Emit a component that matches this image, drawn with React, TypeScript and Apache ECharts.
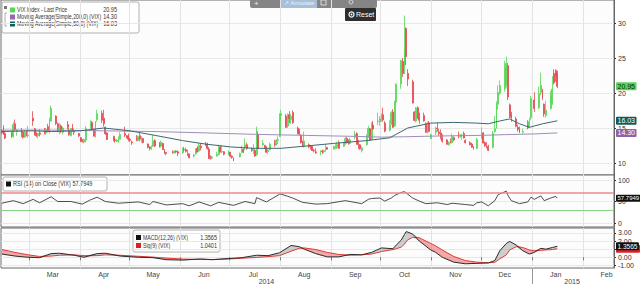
import React, { useEffect, useRef } from "react";
import * as echarts from "echarts";

const START_DAY = "2014-02-12";
const END_DAY = "2015-02-19";
const MONTHS = ["Jan", "Feb", "Mar", "Apr", "May", "Jun", "Jul", "Aug", "Sep", "Oct", "Nov", "Dec"];

// [date, open, close, low, high]
const ohlc: [string, number, number, number, number][] = [
  ["2014-02-12", 14.6, 14.3, 14.1, 14.9], ["2014-02-13", 15.0, 14.14, 14.0, 15.4], ["2014-02-14", 14.2, 13.57, 13.4, 14.5],
  ["2014-02-18", 14.3, 13.87, 13.6, 14.4], ["2014-02-19", 13.8, 15.5, 13.6, 15.8], ["2014-02-20", 15.6, 14.79, 14.6, 16.2],
  ["2014-02-21", 14.5, 14.68, 13.9, 14.8], ["2014-02-24", 14.6, 14.23, 13.7, 15.0], ["2014-02-25", 14.4, 13.67, 13.5, 14.6],
  ["2014-02-26", 13.7, 14.35, 13.6, 14.6], ["2014-02-27", 14.4, 14.04, 13.8, 14.7], ["2014-02-28", 13.9, 14.0, 13.6, 15.3],
  ["2014-03-03", 16.4, 16.0, 15.3, 17.4], ["2014-03-04", 14.9, 14.1, 13.9, 15.0], ["2014-03-05", 14.2, 13.89, 13.7, 14.4],
  ["2014-03-06", 13.9, 14.21, 13.5, 14.3], ["2014-03-07", 14.3, 14.11, 13.8, 14.8], ["2014-03-10", 14.5, 14.2, 14.1, 15.0],
  ["2014-03-11", 14.3, 14.8, 14.0, 15.0], ["2014-03-12", 15.2, 14.47, 14.4, 15.6], ["2014-03-13", 14.5, 16.22, 14.2, 16.5],
  ["2014-03-14", 16.0, 17.82, 15.9, 18.2], ["2014-03-17", 16.7, 15.64, 15.4, 16.8], ["2014-03-18", 15.6, 14.52, 14.4, 15.8],
  ["2014-03-19", 14.5, 15.12, 14.1, 15.7], ["2014-03-20", 15.3, 14.52, 14.3, 15.5], ["2014-03-21", 14.4, 15.0, 14.1, 15.2],
  ["2014-03-24", 15.5, 15.09, 14.8, 16.0], ["2014-03-25", 14.7, 14.02, 13.9, 15.0], ["2014-03-26", 13.9, 14.93, 13.8, 15.0],
  ["2014-03-27", 15.1, 14.62, 14.5, 15.6], ["2014-03-28", 14.5, 14.41, 14.0, 14.9], ["2014-03-31", 14.2, 13.88, 13.7, 14.3],
  ["2014-04-01", 13.6, 13.1, 13.0, 13.7], ["2014-04-02", 13.2, 13.09, 12.9, 13.4], ["2014-04-03", 13.0, 13.37, 12.8, 13.5],
  ["2014-04-04", 13.3, 14.89, 12.9, 15.3], ["2014-04-07", 15.2, 15.57, 14.9, 16.1], ["2014-04-08", 15.8, 14.89, 14.7, 16.0],
  ["2014-04-09", 14.8, 13.82, 13.8, 14.9], ["2014-04-10", 13.9, 15.89, 13.6, 16.0], ["2014-04-11", 16.2, 17.03, 15.9, 17.6],
  ["2014-04-14", 17.1, 16.11, 15.7, 17.5], ["2014-04-15", 16.4, 15.61, 15.2, 17.6], ["2014-04-16", 15.1, 14.18, 14.0, 15.2],
  ["2014-04-17", 14.3, 13.36, 13.3, 14.4], ["2014-04-21", 13.8, 13.25, 13.1, 13.9], ["2014-04-22", 13.3, 13.19, 12.9, 13.5],
  ["2014-04-23", 13.1, 13.27, 13.0, 13.4], ["2014-04-24", 13.0, 13.32, 12.9, 13.8], ["2014-04-25", 13.4, 14.06, 13.3, 14.4],
  ["2014-04-28", 14.2, 13.97, 13.7, 15.2], ["2014-04-29", 13.8, 13.71, 13.5, 14.0], ["2014-04-30", 13.9, 13.41, 13.1, 14.2],
  ["2014-05-01", 13.4, 13.25, 13.0, 13.6], ["2014-05-02", 13.0, 12.91, 12.6, 13.2], ["2014-05-05", 13.6, 13.29, 13.1, 14.0],
  ["2014-05-06", 13.2, 13.8, 13.1, 13.9], ["2014-05-07", 13.9, 13.4, 13.1, 14.3], ["2014-05-08", 13.2, 13.43, 12.9, 13.8],
  ["2014-05-09", 13.5, 12.92, 12.8, 13.6], ["2014-05-12", 12.7, 12.23, 12.1, 12.8], ["2014-05-13", 12.3, 12.13, 11.8, 12.4],
  ["2014-05-14", 12.0, 12.17, 11.9, 12.5], ["2014-05-15", 12.4, 13.17, 12.3, 14.0], ["2014-05-16", 13.2, 12.44, 12.3, 13.4],
  ["2014-05-19", 12.8, 12.42, 12.2, 13.0], ["2014-05-20", 12.4, 12.96, 12.2, 13.2], ["2014-05-21", 12.8, 11.91, 11.9, 12.9],
  ["2014-05-22", 11.8, 11.36, 11.3, 12.0], ["2014-05-23", 11.5, 11.36, 11.1, 11.6], ["2014-05-27", 11.6, 11.51, 11.3, 11.8],
  ["2014-05-28", 11.5, 11.68, 11.3, 11.8], ["2014-05-29", 11.7, 11.57, 11.4, 11.8], ["2014-05-30", 11.6, 11.4, 11.0, 11.8],
  ["2014-06-02", 11.5, 11.58, 11.3, 12.2], ["2014-06-03", 11.9, 11.87, 11.6, 12.3], ["2014-06-04", 11.9, 11.68, 11.5, 12.2],
  ["2014-06-05", 11.7, 11.68, 11.0, 11.9], ["2014-06-06", 11.3, 10.73, 10.7, 11.4], ["2014-06-09", 11.0, 11.15, 10.8, 11.3],
  ["2014-06-10", 11.3, 11.99, 11.2, 12.1], ["2014-06-11", 12.1, 11.6, 11.5, 12.4], ["2014-06-12", 11.7, 12.56, 11.6, 12.9],
  ["2014-06-13", 12.4, 12.18, 11.8, 12.8], ["2014-06-16", 12.7, 12.65, 12.4, 13.0], ["2014-06-17", 12.7, 12.06, 11.9, 12.9],
  ["2014-06-18", 12.0, 10.61, 10.6, 12.3], ["2014-06-19", 10.7, 10.62, 10.5, 11.1], ["2014-06-20", 10.7, 10.85, 10.5, 11.0],
  ["2014-06-23", 11.0, 11.26, 10.9, 11.6], ["2014-06-24", 11.2, 12.13, 11.1, 12.6], ["2014-06-25", 12.3, 11.59, 11.5, 12.5],
  ["2014-06-26", 11.6, 11.63, 11.4, 12.5], ["2014-06-27", 11.6, 11.26, 11.1, 11.7], ["2014-06-30", 11.3, 11.57, 11.1, 11.8],
  ["2014-07-01", 11.5, 10.99, 10.8, 11.6], ["2014-07-02", 11.0, 10.82, 10.6, 11.1], ["2014-07-03", 10.7, 10.32, 10.3, 10.8],
  ["2014-07-07", 10.9, 11.33, 10.8, 11.5], ["2014-07-08", 11.5, 11.98, 11.4, 12.5], ["2014-07-09", 11.9, 11.65, 11.4, 12.1],
  ["2014-07-10", 12.2, 12.59, 11.8, 13.5], ["2014-07-11", 12.6, 12.08, 11.9, 12.9], ["2014-07-14", 12.0, 11.82, 11.6, 12.2],
  ["2014-07-15", 11.8, 11.96, 11.3, 12.7], ["2014-07-16", 11.8, 11.0, 10.9, 12.0], ["2014-07-17", 11.2, 14.54, 11.0, 15.2],
  ["2014-07-18", 14.1, 12.06, 12.0, 14.3], ["2014-07-21", 12.6, 12.81, 12.4, 13.3], ["2014-07-22", 12.5, 12.24, 12.0, 12.6],
  ["2014-07-23", 12.2, 11.52, 11.5, 12.4], ["2014-07-24", 11.6, 11.84, 11.3, 12.0], ["2014-07-25", 11.9, 12.69, 11.8, 12.9],
  ["2014-07-28", 12.8, 12.56, 12.3, 13.3], ["2014-07-29", 12.6, 13.28, 12.5, 13.4], ["2014-07-30", 13.2, 13.33, 12.7, 13.8],
  ["2014-07-31", 13.8, 16.95, 13.7, 17.1], ["2014-08-01", 16.8, 17.03, 15.9, 17.6], ["2014-08-04", 16.7, 15.12, 15.0, 17.0],
  ["2014-08-05", 15.3, 16.87, 15.0, 17.1], ["2014-08-06", 16.9, 16.37, 15.7, 17.4], ["2014-08-07", 16.2, 16.66, 15.6, 17.0],
  ["2014-08-08", 17.2, 15.77, 15.6, 17.5], ["2014-08-11", 15.0, 14.23, 14.1, 15.2], ["2014-08-12", 14.6, 14.13, 14.0, 14.9],
  ["2014-08-13", 14.0, 12.9, 12.8, 14.1], ["2014-08-14", 13.0, 12.42, 12.3, 13.2], ["2014-08-15", 12.3, 13.15, 12.2, 14.5],
  ["2014-08-18", 12.6, 12.32, 12.1, 12.8], ["2014-08-19", 12.4, 12.21, 11.9, 12.5], ["2014-08-20", 12.3, 11.78, 11.7, 12.4],
  ["2014-08-21", 11.8, 11.76, 11.5, 12.0], ["2014-08-22", 11.6, 11.47, 11.3, 12.1], ["2014-08-25", 11.6, 11.7, 11.1, 11.8],
  ["2014-08-26", 11.7, 11.63, 11.3, 11.9], ["2014-08-27", 11.6, 11.78, 11.4, 11.9], ["2014-08-28", 12.0, 12.05, 11.6, 12.7],
  ["2014-08-29", 12.2, 11.98, 11.9, 12.3], ["2014-09-02", 12.0, 12.25, 11.9, 12.5], ["2014-09-03", 12.2, 12.36, 12.0, 12.7],
  ["2014-09-04", 12.2, 12.64, 12.0, 13.0], ["2014-09-05", 12.9, 12.09, 12.0, 13.2], ["2014-09-08", 12.4, 12.66, 12.3, 12.9],
  ["2014-09-09", 12.7, 13.5, 12.6, 13.7], ["2014-09-10", 13.5, 12.88, 12.8, 13.7], ["2014-09-11", 13.1, 12.8, 12.6, 13.4],
  ["2014-09-12", 12.8, 13.31, 12.7, 13.6], ["2014-09-15", 13.7, 14.12, 13.4, 14.6], ["2014-09-16", 14.2, 12.73, 12.6, 14.4],
  ["2014-09-17", 12.8, 12.65, 12.0, 13.3], ["2014-09-18", 12.6, 12.03, 11.9, 12.7], ["2014-09-19", 11.8, 12.11, 11.5, 12.4],
  ["2014-09-22", 12.6, 13.69, 12.5, 14.1], ["2014-09-23", 13.7, 14.93, 13.6, 15.3], ["2014-09-24", 14.9, 13.27, 13.2, 15.0],
  ["2014-09-25", 13.4, 15.64, 13.3, 15.8], ["2014-09-26", 15.4, 14.85, 14.7, 16.0], ["2014-09-29", 15.9, 15.98, 15.4, 17.2],
  ["2014-09-30", 15.9, 16.31, 15.3, 16.7], ["2014-10-01", 16.3, 16.71, 15.9, 17.1], ["2014-10-02", 16.9, 16.16, 15.9, 17.9],
  ["2014-10-03", 15.7, 14.55, 14.4, 16.0], ["2014-10-06", 14.7, 15.46, 14.5, 16.1], ["2014-10-07", 15.6, 17.2, 15.4, 17.4],
  ["2014-10-08", 17.3, 15.11, 15.0, 17.7], ["2014-10-09", 15.3, 18.76, 15.2, 18.9], ["2014-10-10", 18.7, 21.24, 18.5, 21.4],
  ["2014-10-13", 21.3, 24.64, 20.6, 24.7], ["2014-10-14", 24.5, 22.79, 22.3, 25.0], ["2014-10-15", 23.8, 26.25, 22.7, 31.06],
  ["2014-10-16", 29.2, 25.2, 24.0, 29.4], ["2014-10-17", 22.8, 21.99, 21.0, 23.4], ["2014-10-20", 21.6, 18.57, 18.5, 21.9],
  ["2014-10-21", 17.3, 16.08, 16.0, 17.4], ["2014-10-22", 16.0, 17.87, 15.8, 18.0], ["2014-10-23", 17.9, 16.53, 16.3, 18.1],
  ["2014-10-24", 16.6, 16.11, 15.6, 17.2], ["2014-10-27", 16.8, 16.04, 15.9, 17.2], ["2014-10-28", 15.6, 14.39, 14.3, 15.8],
  ["2014-10-29", 14.3, 15.15, 14.2, 15.9], ["2014-10-30", 15.7, 14.52, 14.4, 16.0], ["2014-10-31", 13.5, 14.03, 13.4, 14.2],
  ["2014-11-03", 14.4, 14.73, 14.0, 15.2], ["2014-11-04", 15.0, 14.89, 14.5, 15.8], ["2014-11-05", 14.4, 14.17, 13.9, 14.9],
  ["2014-11-06", 14.3, 13.67, 13.4, 14.8], ["2014-11-07", 13.6, 13.12, 12.9, 14.1], ["2014-11-10", 13.3, 12.67, 12.6, 13.4],
  ["2014-11-11", 12.6, 12.92, 12.5, 13.1], ["2014-11-12", 13.2, 13.02, 12.8, 13.5], ["2014-11-13", 12.9, 13.79, 12.8, 14.2],
  ["2014-11-14", 13.6, 13.31, 13.1, 13.8], ["2014-11-17", 14.0, 13.99, 13.5, 14.5], ["2014-11-18", 13.8, 13.86, 13.6, 14.1],
  ["2014-11-19", 13.9, 13.96, 13.3, 14.2], ["2014-11-20", 14.2, 13.58, 13.5, 14.5], ["2014-11-21", 13.2, 12.9, 12.8, 13.4],
  ["2014-11-24", 12.9, 12.62, 12.5, 13.1], ["2014-11-25", 12.7, 12.25, 12.2, 12.9], ["2014-11-26", 12.3, 12.07, 11.9, 12.4],
  ["2014-11-28", 12.1, 13.33, 12.0, 13.6], ["2014-12-01", 13.6, 14.29, 13.5, 15.1], ["2014-12-02", 14.3, 12.85, 12.8, 14.4],
  ["2014-12-03", 12.9, 12.47, 12.3, 13.1], ["2014-12-04", 12.4, 12.38, 12.1, 13.0], ["2014-12-05", 12.3, 11.82, 11.7, 12.6],
  ["2014-12-08", 12.2, 14.21, 12.1, 14.6], ["2014-12-09", 14.5, 14.89, 14.3, 16.7], ["2014-12-10", 15.0, 18.53, 14.9, 18.8],
  ["2014-12-11", 18.4, 20.08, 17.6, 21.1], ["2014-12-12", 20.0, 21.08, 19.7, 21.8], ["2014-12-15", 20.6, 23.6, 20.2, 24.6],
  ["2014-12-16", 21.2, 24.2, 20.8, 25.2], ["2014-12-17", 23.9, 19.44, 19.0, 24.3], ["2014-12-18", 18.3, 16.81, 16.4, 18.5],
  ["2014-12-19", 16.9, 16.49, 15.9, 17.3], ["2014-12-22", 16.3, 15.25, 15.1, 16.6], ["2014-12-23", 15.1, 14.8, 14.5, 15.5],
  ["2014-12-24", 14.9, 14.37, 14.3, 15.2], ["2014-12-26", 14.4, 14.5, 14.2, 14.9], ["2014-12-29", 15.4, 15.06, 14.8, 16.1],
  ["2014-12-30", 15.2, 15.92, 15.0, 16.5], ["2014-12-31", 16.5, 19.2, 16.1, 19.6], ["2015-01-02", 19.0, 17.79, 17.3, 20.1],
  ["2015-01-05", 17.9, 19.92, 17.7, 20.9], ["2015-01-06", 20.1, 21.12, 19.7, 22.9], ["2015-01-07", 20.4, 19.31, 19.0, 20.6],
  ["2015-01-08", 18.4, 17.01, 16.6, 18.5], ["2015-01-09", 16.8, 17.55, 16.5, 18.9], ["2015-01-12", 17.8, 19.6, 17.6, 20.3],
  ["2015-01-13", 18.6, 20.56, 18.3, 22.4], ["2015-01-14", 22.8, 21.48, 21.2, 23.4], ["2015-01-15", 23.2, 22.39, 21.6, 23.4],
  ["2015-01-16", 22.8, 20.95, 20.7, 23.2],
];

const ma200Points: [string, number][] = [
  ["2014-02-12", 14.7], ["2014-03-14", 14.7], ["2014-04-15", 14.6], ["2014-05-15", 14.5], ["2014-06-16", 14.3],
  ["2014-07-15", 14.1], ["2014-08-15", 13.95], ["2014-09-15", 13.8], ["2014-10-01", 13.7], ["2014-10-15", 13.75],
  ["2014-11-03", 13.85], ["2014-11-17", 13.9], ["2014-12-01", 13.95], ["2014-12-15", 14.05], ["2015-01-02", 14.15],
  ["2015-01-16", 14.3],
];

const ma50Points: [string, number][] = [
  ["2014-02-12", 14.5], ["2014-03-03", 14.6], ["2014-03-14", 14.5], ["2014-04-01", 14.6], ["2014-04-15", 15.0],
  ["2014-05-01", 14.6], ["2014-05-15", 14.0], ["2014-06-02", 13.2], ["2014-06-16", 12.7], ["2014-07-01", 12.3],
  ["2014-07-15", 12.1], ["2014-08-01", 12.1], ["2014-08-15", 12.4], ["2014-09-02", 12.8], ["2014-09-22", 13.2],
  ["2014-10-06", 13.6], ["2014-10-17", 15.0], ["2014-10-31", 15.7], ["2014-11-14", 15.8], ["2014-11-28", 15.7],
  ["2014-12-05", 15.6], ["2014-12-12", 16.0], ["2014-12-18", 16.3], ["2014-12-24", 15.6], ["2014-12-30", 15.1],
  ["2015-01-07", 15.6], ["2015-01-16", 16.03],
];

const rsiPoints: [string, number][] = [
  ["2014-02-12", 46], ["2014-02-19", 52], ["2014-02-25", 45], ["2014-03-03", 55], ["2014-03-07", 47], ["2014-03-14", 61],
  ["2014-03-18", 50], ["2014-03-26", 50], ["2014-04-02", 44], ["2014-04-07", 54], ["2014-04-11", 60], ["2014-04-16", 50],
  ["2014-04-24", 46], ["2014-05-06", 49], ["2014-05-13", 43], ["2014-05-15", 50], ["2014-05-23", 42], ["2014-06-02", 45],
  ["2014-06-06", 40], ["2014-06-12", 49], ["2014-06-19", 40], ["2014-06-24", 48], ["2014-07-03", 41], ["2014-07-10", 50],
  ["2014-07-16", 45], ["2014-07-17", 59], ["2014-07-23", 49], ["2014-07-31", 67], ["2014-08-01", 67], ["2014-08-05", 62],
  ["2014-08-08", 58], ["2014-08-14", 48], ["2014-08-22", 44], ["2014-08-29", 45], ["2014-09-09", 52], ["2014-09-19", 45],
  ["2014-09-23", 55], ["2014-09-25", 57], ["2014-09-30", 58], ["2014-10-03", 51], ["2014-10-07", 58], ["2014-10-09", 64],
  ["2014-10-13", 71], ["2014-10-15", 73], ["2014-10-16", 70], ["2014-10-20", 58], ["2014-10-24", 51], ["2014-10-28", 45],
  ["2014-11-04", 47], ["2014-11-10", 43], ["2014-11-13", 46], ["2014-11-21", 43], ["2014-11-26", 41], ["2014-11-28", 47],
  ["2014-12-01", 49], ["2014-12-05", 40], ["2014-12-09", 52], ["2014-12-11", 66], ["2014-12-16", 74], ["2014-12-17", 64],
  ["2014-12-19", 52], ["2014-12-24", 45], ["2014-12-29", 49], ["2014-12-31", 60], ["2015-01-02", 55], ["2015-01-06", 63],
  ["2015-01-08", 52], ["2015-01-12", 58], ["2015-01-15", 62], ["2015-01-16", 57.7949],
];

const macdDates = [
  "2014-02-12", "2014-02-20", "2014-02-28", "2014-03-07", "2014-03-14", "2014-03-19", "2014-03-28", "2014-04-03",
  "2014-04-11", "2014-04-16", "2014-04-25", "2014-05-06", "2014-05-15", "2014-05-23", "2014-06-02", "2014-06-13",
  "2014-06-20", "2014-06-30", "2014-07-08", "2014-07-17", "2014-07-24", "2014-07-31", "2014-08-07", "2014-08-12",
  "2014-08-15", "2014-08-22", "2014-08-29", "2014-09-05", "2014-09-12", "2014-09-19", "2014-09-25", "2014-10-01",
  "2014-10-08", "2014-10-10", "2014-10-13", "2014-10-15", "2014-10-16", "2014-10-17", "2014-10-20", "2014-10-24",
  "2014-10-31", "2014-11-03", "2014-11-07", "2014-11-14", "2014-11-21", "2014-11-28", "2014-12-05", "2014-12-09",
  "2014-12-12", "2014-12-16", "2014-12-18", "2014-12-22", "2014-12-26", "2014-12-30", "2015-01-02", "2015-01-06",
  "2015-01-09", "2015-01-13", "2015-01-16",
];
const macdValues = [
  0.4, 0.15, 0.0, -0.05, 0.45, 0.5, 0.25, 0.0,
  0.45, 0.5, 0.15, 0.0, -0.05, -0.3, -0.35, -0.2,
  -0.3, -0.15, -0.05, 0.25, 0.2, 0.55, 1.45, 1.3,
  1.0, 0.45, 0.05, 0.05, 0.35, 0.3, 0.6, 1.15,
  1.05, 1.5, 2.1, 2.8, 3.15, 3.1, 2.85, 2.0,
  0.9, 0.6, 0.0, -0.6, -0.8, -0.75, -0.7, -0.4,
  0.8, 1.7, 1.95, 1.5, 0.8, 0.4, 0.6, 1.1,
  1.0, 1.2, 1.3565,
];
const signalValues = [
  0.95, 0.6, 0.3, 0.1, 0.15, 0.25, 0.3, 0.2,
  0.2, 0.3, 0.25, 0.12, 0.02, -0.1, -0.22, -0.28,
  -0.28, -0.22, -0.12, -0.02, 0.08, 0.2, 0.75, 1.1,
  1.15, 0.95, 0.6, 0.35, 0.25, 0.3, 0.4, 0.7,
  0.95, 1.05, 1.25, 1.6, 1.9, 2.15, 2.45, 2.4,
  1.7, 1.4, 0.9, 0.1, -0.4, -0.6, -0.68, -0.62,
  -0.2, 0.3, 0.9, 1.3, 1.2, 0.9, 0.8, 0.85,
  0.9, 0.95, 1.0401,
];

const priceTicks = [10, 15, 20, 25, 30];
const rsiTicks = [0, 50, 100];
const macdTicks = [-1, 0, 1, 2, 3];
const macdLabelTicks = [-1, 0, 2, 3];
const rsiLevels = { high: 70, low: 30 };

const FONT = "'Liberation Sans',Arial,sans-serif";

function buildDays(start: string, end: string) {
  const out: string[] = [];
  const d = new Date(start + "T00:00:00Z");
  const e = new Date(end + "T00:00:00Z");
  while (d.getTime() <= e.getTime()) {
    out.push(d.toISOString().slice(0, 10));
    d.setUTCDate(d.getUTCDate() + 1);
  }
  return out;
}

function buildOption() {
  const days = buildDays(START_DAY, END_DAY);
  const idx = new Map<string, number>();
  days.forEach((d, i) => idx.set(d, i));
  const N = days.length;

  const candleData = new Array(N).fill("-") as any[];
  ohlc.forEach(([d, o, c, l, h]) => (candleData[idx.get(d)!] = [o, c, l, h]));
  const pairs = (pts: [string, number][]) => pts.map(([d, v]) => [d, v]);

  const macd = macdDates.map((d, k) => [d, macdValues[k]]);
  const sig = macdDates.map((d, k) => [d, signalValues[k]]);
  const fBase = macdDates.map((d, k) => [d, Math.min(macdValues[k], signalValues[k])]);
  const fUp = macdDates.map((d, k) => [d, Math.max(0, macdValues[k] - signalValues[k])]);
  const fDown = macdDates.map((d, k) => [d, Math.max(0, signalValues[k] - macdValues[k])]);

  const lastClose = ohlc[ohlc.length - 1][2];
  const lastMa200 = ma200Points[ma200Points.length - 1][1];
  const lastMa50 = ma50Points[ma50Points.length - 1][1];
  const lastRsi = rsiPoints[rsiPoints.length - 1][1];
  const lastMacd = macdValues[macdValues.length - 1];
  const lastSig = signalValues[signalValues.length - 1];

  const yearMid = new Set<number>();
  const years = Array.from(new Set(days.map((d) => d.slice(0, 4))));
  years.forEach((y) => {
    const first = days.findIndex((d) => d.startsWith(y));
    let last = first;
    days.forEach((d, i) => { if (d.startsWith(y)) last = i; });
    yearMid.add(Math.floor((first + last) / 2));
  });
  const monthStarts = new Set(days.filter((d) => d.slice(8) === "01").map((d) => d.slice(0, 7)));

  const isMonthStart = (_i: number, v: string) => v.slice(8) === "01";
  const isMid = (_i: number, v: string) => v.slice(8) === "15" && monthStarts.has(v.slice(0, 7));

  const baseX = (gridIndex: number) => ({
    type: "category", gridIndex, data: days, boundaryGap: true,
    axisLine: { show: false }, axisTick: { show: false }, axisLabel: { show: false },
    splitLine: { show: true, interval: isMonthStart, lineStyle: { color: "#e3e3e3", width: 1 } },
  });

  const badge = (value: number, text: string, bg: string, fg: string, size = 7, width?: number) => ({
    yAxis: value,
    lineStyle: { color: "rgba(0,0,0,0)", width: 0 },
    label: {
      show: true, position: "end", distance: 2, formatter: text,
      backgroundColor: bg, color: fg, fontSize: size, fontFamily: FONT,
      padding: [1, 1.5, 0, 1.5], borderRadius: 1,
      ...(width ? { width } : {}),
    },
  });
  const markBase = { silent: true, symbol: ["none", "none"], animation: false };

  const txt = (x: number, y: number, text: string, extra: any = {}, scaleX = 1) => ({
    type: "text", x, y, silent: true, scaleX,
    style: {
      text, fontSize: 6.5, fontFamily: FONT, fill: "#333",
      verticalAlign: "middle", textVerticalAlign: "middle", ...extra,
    },
  });
  const sq = (x: number, y: number, color: string) => ({
    type: "rect", silent: true, shape: { x, y: y - 2.5, width: 5, height: 5 }, style: { fill: color },
  });
  const R = { align: "right", textAlign: "right" };

  const C_UP = "#55d855", C_DOWN = "#e5474f";
  const C_MA200 = "#9d8fb8", C_MA50 = "#3c6870";

  const graphic = [
    // main legend
    { type: "rect", silent: true, shape: { x: 2, y: 2, width: 137, height: 31, r: 2 }, style: { fill: "rgba(255,255,255,0.9)", stroke: "#b0b0b0", lineWidth: 1 } },
    { type: "polyline", silent: true, shape: { points: [[7, 13], [5, 13], [5, 26], [7, 26]] }, style: { stroke: "#999", lineWidth: 0.8, fill: "none" } },
    { type: "rect", silent: true, shape: { x: 4, y: 6, width: 3, height: 3 }, style: { fill: "#777" } },
    sq(10, 10, C_UP), txt(17, 10, "VIX Index - Last Price", {}, 0.8), txt(117, 10, lastClose.toFixed(2), R, 0.85),
    sq(10, 17, "#9566b3"), txt(17, 17, "Moving Average(Simple,200,0) (VIX)", {}, 0.8), txt(117, 17, lastMa200.toFixed(2), R, 0.85),
    sq(10, 24, "#0b5e59"), txt(17, 24, "Moving Average(Simple,50,0) (VIX)", {}, 0.8), txt(117, 24, lastMa50.toFixed(2), R, 0.85),
    // RSI legend
    { type: "rect", silent: true, shape: { x: 3, y: 177, width: 104, height: 14, r: 2 }, style: { fill: "rgba(255,255,255,0.9)", stroke: "#b0b0b0", lineWidth: 1 } },
    sq(6, 184, "#111"), txt(13, 184, "RSI (14) on Close (VIX) " + lastRsi.toFixed(4), {}, 0.85),
    // MACD legend
    { type: "rect", silent: true, shape: { x: 133, y: 230, width: 87, height: 22, r: 2 }, style: { fill: "rgba(255,255,255,0.9)", stroke: "#b0b0b0", lineWidth: 1 } },
    sq(136, 237.5, "#111"), txt(143, 237.5, "MACD(12,26) (VIX)", {}, 0.8), txt(217, 237.5, lastMacd.toFixed(4), R, 0.85),
    sq(136, 245.5, "#e02020"), txt(143, 245.5, "Sig(9) (VIX)", {}, 0.8), txt(217, 245.5, lastSig.toFixed(4), R, 0.85),
    // toolbar
    { type: "rect", silent: true, shape: { x: 250, y: -4, width: 127, height: 12, r: 2 }, style: { fill: "#858585" } },
    { type: "rect", silent: true, shape: { x: 281, y: -4, width: 36, height: 12 }, style: { fill: "#a7bfd9" } },
    txt(254, 3, "+", { fill: "#eee", fontSize: 8 }),
    txt(284, 3, "\u2197 Annotate", { fill: "#eef3fa", fontSize: 6 }),
    { type: "rect", silent: true, shape: { x: 321, y: 0, width: 5, height: 5 }, style: { fill: "none", stroke: "#eee", lineWidth: 0.8 } },
    { type: "circle", silent: true, shape: { cx: 351, cy: 2, r: 2 }, style: { fill: "none", stroke: "#eee", lineWidth: 0.8 } },
    // reset button
    { type: "rect", silent: true, shape: { x: 345, y: 8, width: 31, height: 13, r: 1 }, style: { fill: "#2e2e2e" } },
    { type: "circle", silent: true, shape: { cx: 351.5, cy: 14.5, r: 2.5 }, style: { fill: "none", stroke: "#fff", lineWidth: 1.2 } },
    { type: "circle", silent: true, shape: { cx: 351.5, cy: 14.5, r: 0.9 }, style: { fill: "#fff" } },
    txt(356, 14.5, "Reset", { fill: "#fff", fontSize: 7 }),
  ];

  const yCommon = {
    type: "value", position: "right",
    axisLine: { show: true, lineStyle: { color: "#666" } },
    splitLine: { show: true, lineStyle: { color: "#e8e8e8" } },
  };
  const lbl = { fontSize: 7, color: "#333", margin: 4, fontFamily: FONT };

  return {
    animation: false,
    backgroundColor: "#ffffff",
    textStyle: { fontFamily: FONT },
    grid: [
      { left: 1, right: 26, top: 0, height: 175, show: true, borderColor: "#6a6a6a", borderWidth: 1, backgroundColor: "#fcfcfc" },
      { left: 1, right: 26, top: 175, height: 52, show: true, borderColor: "#6a6a6a", borderWidth: 1, backgroundColor: "#fcfcfc" },
      { left: 1, right: 26, top: 228, height: 41, show: true, borderColor: "#6a6a6a", borderWidth: 1, backgroundColor: "#fcfcfc" },
    ],
    xAxis: [
      baseX(0),
      baseX(1),
      {
        ...baseX(2),
        axisTick: { show: true, interval: isMonthStart, length: 3, lineStyle: { color: "#777" } },
        axisLabel: {
          show: true, interval: isMid, fontSize: 7, color: "#444", margin: 3, fontFamily: FONT,
          formatter: (v: string) => MONTHS[Number(v.slice(5, 7)) - 1],
        },
      },
      {
        type: "category", gridIndex: 2, data: days, boundaryGap: true, position: "bottom",
        axisLine: { show: false }, splitLine: { show: false },
        axisTick: { show: true, alignWithLabel: true, interval: (_i: number, v: string) => v.slice(5) === "01-01", length: 16, lineStyle: { color: "#999" } },
        axisLabel: {
          show: true, interval: (i: number) => yearMid.has(i), fontSize: 7, color: "#444", margin: 10, fontFamily: FONT,
          formatter: (v: string) => v.slice(0, 4),
        },
      },
    ],
    yAxis: [
      { ...yCommon, gridIndex: 0, min: 8.286, max: 33.286,
        axisTick: { show: true, length: 2, customValues: priceTicks, lineStyle: { color: "#333" } },
        axisLabel: { ...lbl, customValues: priceTicks } },
      { ...yCommon, gridIndex: 1, min: -9.3, max: 111.63,
        axisTick: { show: true, length: 2, customValues: rsiTicks, lineStyle: { color: "#333" } },
        axisLabel: { ...lbl, customValues: rsiTicks } },
      { ...yCommon, gridIndex: 2, min: -1.32, max: 3.6,
        axisTick: { show: true, length: 2, customValues: macdTicks, lineStyle: { color: "#333" } },
        axisLabel: { ...lbl, customValues: macdLabelTicks, formatter: (v: number) => v.toFixed(2) } },
    ],
    series: [
      {
        type: "candlestick", name: "VIX", xAxisIndex: 0, yAxisIndex: 0, data: candleData, barWidth: 1.4,
        itemStyle: { color: C_UP, color0: C_DOWN, borderColor: C_UP, borderColor0: C_DOWN, borderWidth: 0.8 },
        markLine: { ...markBase, z: 5, data: [badge(lastClose, lastClose.toFixed(2), "#55d655", "#1a1a1a")] },
      },
      {
        type: "line", name: "MA200", xAxisIndex: 0, yAxisIndex: 0, data: pairs(ma200Points), showSymbol: false,
        lineStyle: { color: C_MA200, width: 1 }, z: 3,
        markLine: { ...markBase, data: [badge(lastMa200, lastMa200.toFixed(2), "#8f62a8", "#fff")] },
      },
      {
        type: "line", name: "MA50", xAxisIndex: 0, yAxisIndex: 0, data: pairs(ma50Points), showSymbol: false,
        lineStyle: { color: C_MA50, width: 1 }, z: 4,
        markLine: { ...markBase, data: [badge(lastMa50, lastMa50.toFixed(2), "#0c5c58", "#fff")] },
      },
      {
        type: "line", name: "RSI", xAxisIndex: 1, yAxisIndex: 1, data: pairs(rsiPoints), showSymbol: false,
        lineStyle: { color: "#3a3a3a", width: 0.9 }, z: 4,
        markLine: {
          ...markBase,
          label: { show: false },
          data: [
            { yAxis: rsiLevels.high, lineStyle: { color: "#f08a8a", width: 1.5, type: "solid" }, label: { show: false } },
            { yAxis: rsiLevels.low, lineStyle: { color: "#86d486", width: 1, type: "solid" }, label: { show: false } },
            badge(lastRsi, lastRsi.toFixed(4), "#111", "#fff", 6),
          ],
        },
      },
      {
        type: "line", name: "fillBase", xAxisIndex: 2, yAxisIndex: 2, data: fBase, stack: "macdFill", stackStrategy: "all",
        showSymbol: false, lineStyle: { width: 0, opacity: 0 }, silent: true, z: 1,
      },
      {
        type: "line", name: "fillUp", xAxisIndex: 2, yAxisIndex: 2, data: fUp, stack: "macdFill", stackStrategy: "all",
        showSymbol: false, lineStyle: { width: 0, opacity: 0 }, silent: true, z: 1,
        areaStyle: { color: "rgba(150,150,150,0.45)", opacity: 1 },
      },
      {
        type: "line", name: "fillDown", xAxisIndex: 2, yAxisIndex: 2, data: fDown, stack: "macdFill", stackStrategy: "all",
        showSymbol: false, lineStyle: { width: 0, opacity: 0 }, silent: true, z: 1,
        areaStyle: { color: "rgba(235,100,100,0.55)", opacity: 1 },
      },
      {
        type: "line", name: "Signal", xAxisIndex: 2, yAxisIndex: 2, data: sig, showSymbol: false,
        lineStyle: { color: "#e03a3a", width: 1 }, z: 3,
        markLine: { ...markBase, data: [badge(lastSig, " ", "#e02020", "#e02020", 6.5, 21)] },
      },
      {
        type: "line", name: "MACD", xAxisIndex: 2, yAxisIndex: 2, data: macd, showSymbol: false,
        lineStyle: { color: "#2a2a2a", width: 1 }, z: 4,
        markLine: { ...markBase, data: [badge(lastMacd, lastMacd.toFixed(4), "#111", "#fff", 6.5)] },
      },
    ],
    graphic,
  };
}

export default function App() {
  const ref = useRef<HTMLDivElement>(null);
  useEffect(() => {
    if (!ref.current) return;
    const chart = echarts.init(ref.current, null, { renderer: "svg" });
    chart.setOption(buildOption() as any);
    return () => chart.dispose();
  }, []);
  return (
    <div
      ref={ref}
      style={{ position: "fixed", left: 0, top: 0, width: 640, height: 285, background: "#fff" }}
    />
  );
}
